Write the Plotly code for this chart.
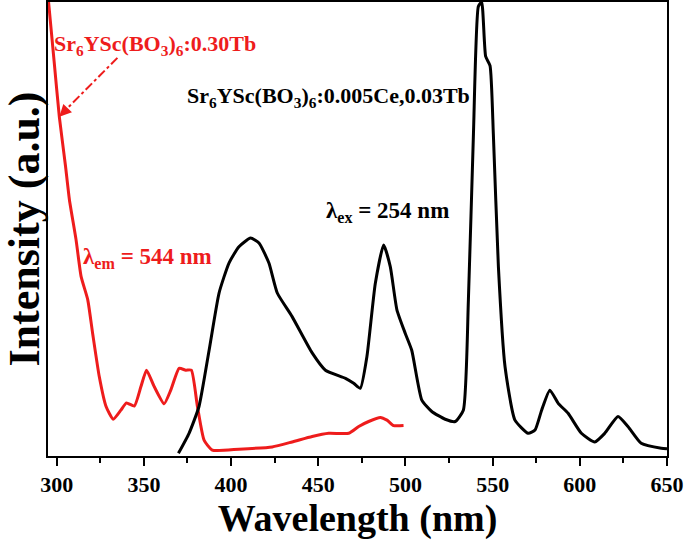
import plotly.graph_objects as go

# Emission spectrum (black), lambda_ex = 254 nm
em_wl = [369.8, 375.9, 381.6, 387.4, 393.1, 398.8, 404.5, 411.2, 416.0, 421.7, 426.5, 435.0,
         446.5, 454.1, 465.6, 470.3, 474.1, 477.9, 482.7, 487.5, 491.3, 495.1, 499.9, 503.6,
         509.4, 515.1, 522.8, 528.5, 533.2, 536.1, 539.0, 541.8, 543.7, 546.0, 548.5, 550.4,
         553.3, 557.1, 562.8, 570.4, 574.3, 578.1, 582.8, 587.6, 593.3, 600.9, 608.6, 614.3,
         621.9, 627.6, 635.2, 646.7, 650.0]
em_int = [0.6, 5.0, 10.9, 23.3, 35.9, 42.5, 46.1, 48.0, 46.9, 42.5, 35.9, 30.7,
          22.7, 18.9, 17.1, 16.0, 14.9, 21.9, 38.0, 46.5, 41.7, 32.2, 27.0, 23.3,
          12.3, 9.8, 8.1, 7.6, 10.1, 34.4, 71.0, 99.0, 100.0, 88.0, 86.0, 71.0,
          41.7, 19.7, 7.9, 5.0, 5.7, 10.1, 14.5, 11.6, 9.4, 5.0, 3.1, 5.0,
          8.7, 6.5, 2.8, 1.7, 1.6]

# Excitation spectrum (red), lambda_em = 544 nm
ex_wl = [295.2, 298.5, 301.5, 305.0, 307.3, 311.1, 314.0, 317.8, 320.6, 324.4, 328.3, 332.4,
         336.8, 340.0, 344.5, 348.3, 351.5, 355.9, 361.6, 365.4, 370.2, 374.0, 377.2, 380.7,
         384.5, 389.2, 404.5, 423.6, 435.0, 446.5, 456.0, 467.5, 473.2, 478.9, 485.6, 489.4,
         493.2, 498.9]
ex_int = [100.5, 87.0, 74.7, 64.0, 56.4, 47.6, 39.5, 34.4, 27.0, 17.5, 10.9, 8.1,
          10.1, 11.7, 11.0, 15.3, 18.9, 15.3, 11.5, 14.5, 19.3, 18.9, 18.9, 10.9,
          3.5, 1.3, 1.5, 2.0, 3.1, 4.3, 5.0, 5.0, 6.5, 7.6, 8.5, 7.9,
          6.7, 6.7]

x_ticks = [300, 350, 400, 450, 500, 550, 600, 650]

FONT = "Liberation Serif"
RED = "#ee1c1c"

fig = go.Figure()
fig.add_trace(go.Scatter(x=ex_wl, y=ex_int, mode="lines",
                         line=dict(color=RED, width=3, shape="spline", smoothing=0.5),
                         showlegend=False))
fig.add_trace(go.Scatter(x=em_wl, y=em_int, mode="lines",
                         line=dict(color="black", width=3, shape="spline", smoothing=0.5),
                         showlegend=False))

# dash-dot arrow pointing to red curve
fig.add_shape(type="line", x0=334.8, y0=87.7, x1=302.5, y1=75.2,
              line=dict(color=RED, width=2, dash="dashdot"))
fig.add_annotation(x=301.5, y=74.7, ax=306.0, ay=76.5, axref="x", ayref="y",
                   xref="x", yref="y", text="", showarrow=True,
                   arrowhead=2, arrowsize=1.2, arrowwidth=2, arrowcolor=RED)

fig.add_annotation(x=297.5, y=90.5, xref="x", yref="y", xanchor="left", yanchor="middle",
                   text="<b>Sr<sub>6</sub>YSc(BO<sub>3</sub>)<sub>6</sub>:0.30Tb</b>",
                   showarrow=False, font=dict(family=FONT, size=22, color=RED))
fig.add_annotation(x=373.8, y=79.1, xref="x", yref="y", xanchor="left", yanchor="middle",
                   text="<b>Sr<sub>6</sub>YSc(BO<sub>3</sub>)<sub>6</sub>:0.005Ce,0.03Tb</b>",
                   showarrow=False, font=dict(family=FONT, size=22, color="black"))
fig.add_annotation(x=453.2, y=53.7, xref="x", yref="y", xanchor="left", yanchor="middle",
                   text="<b>λ<sub>ex</sub> = 254 nm</b>",
                   showarrow=False, font=dict(family=FONT, size=23, color="black"))
fig.add_annotation(x=314.0, y=43.6, xref="x", yref="y", xanchor="left", yanchor="middle",
                   text="<b>λ<sub>em</sub> = 544 nm</b>",
                   showarrow=False, font=dict(family=FONT, size=23, color=RED))

fig.update_layout(
    width=685, height=540,
    margin=dict(l=48, r=18, t=2, b=84),
    paper_bgcolor="white", plot_bgcolor="white",
    font=dict(family=FONT, color="black"),
)
fig.update_xaxes(
    range=[295, 650], tickvals=x_ticks, ticktext=[str(v) for v in x_ticks],
    ticks="outside", ticklen=8, tickwidth=2, tickcolor="black",
    minor=dict(ticks="outside", dtick=25, tick0=0, ticklen=5, tickwidth=2, tickcolor="black"),
    showline=True, linewidth=2, linecolor="black", mirror=True,
    showgrid=False, zeroline=False, automargin=False,
    tickfont=dict(family=FONT, size=22, color="black", weight="bold"),
    title=dict(text="Wavelength (nm)",
               font=dict(family=FONT, size=38, color="black", weight="bold")),
)
fig.update_yaxes(
    range=[0, 100], showticklabels=False, ticks="",
    showline=True, linewidth=2, linecolor="black", mirror=True,
    showgrid=False, zeroline=False, automargin=False,
    title=dict(text="Intensity (a.u.)",
               font=dict(family=FONT, size=44, color="black", weight="bold")),
)

fig.write_html("out.html", config={"displayModeBar": False},
               post_script="document.body.style.margin='0';document.body.style.overflow='hidden';")
